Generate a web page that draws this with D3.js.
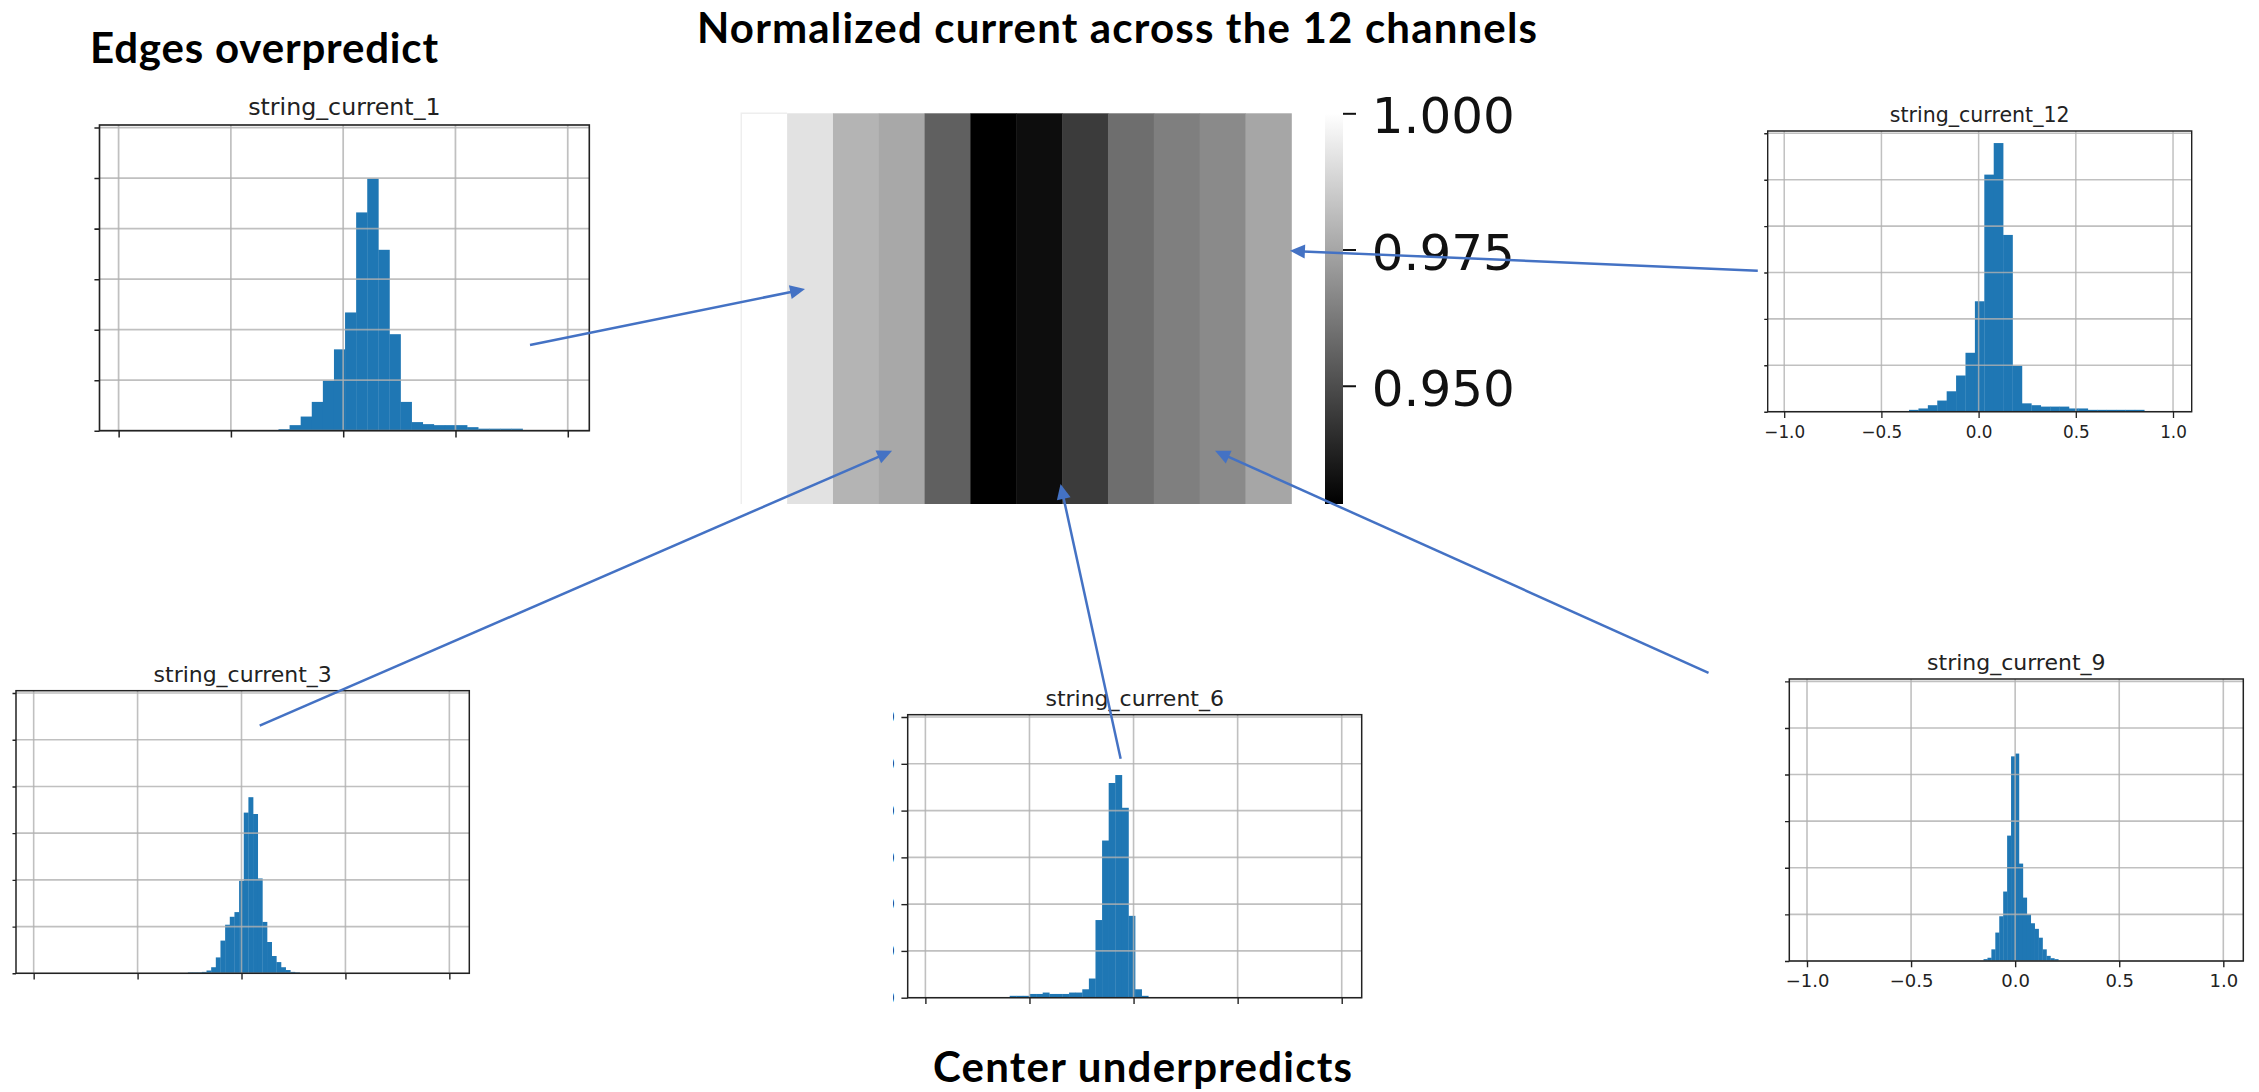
<!DOCTYPE html>
<html>
<head>
<meta charset="utf-8">
<script src="https://cdn.jsdelivr.net/npm/d3@7.9.0/dist/d3.min.js"></script>
<style>
  body { margin: 0; background: #fff; }
  svg { display: block; }
</style>
</head>
<body>
<script>
// heatmap: mean normalized current per channel
const channels = [1, 2, 3, 4, 5, 6, 7, 8, 9, 10, 11, 12];
const channelMean = [1.000, 0.9918, 0.9789, 0.9755, 0.9553, 0.9283, 0.9320, 0.9449, 0.9592, 0.9640, 0.9671, 0.9750];
const cbarDomain = [0.9283, 1.000];
const cbarTicks = [0.950, 0.975, 1.000];

// histograms (error distribution), counts per bin, bins = [first edge, width]
const histXTicks = [-1, -0.5, 0, 0.5, 1];
const histYTicks = [0, 1000, 2000, 3000, 4000, 5000, 6000];

const counts1 = [30, 110, 280, 570, 990, 1610, 2340, 4320, 4990, 3580, 1910, 570, 170, 130, 110, 110, 110, 70, 40, 40, 40, 40];
const bins1 = [-0.288, 0.0494];

const counts12 = [40, 70, 140, 240, 440, 780, 1270, 2380, 5110, 5790, 3810, 990, 180, 140, 110, 110, 110, 70, 70, 40, 40, 40, 40, 40, 40];
const bins12 = [-0.358, 0.0484];

const counts3 = [20, 20, 20, 30, 60, 130, 340, 700, 1040, 1210, 1310, 1980, 3440, 3770, 3410, 2030, 1100, 670, 370, 240, 130, 70, 30, 20];
const bins3 = [-0.258, 0.0224];

const counts6 = [40, 40, 40, 80, 80, 110, 80, 80, 80, 110, 110, 180, 410, 1660, 3360, 4590, 4760, 4060, 1750, 180, 40];
const bins6 = [-0.595, 0.0317];

const counts9 = [40, 70, 250, 610, 960, 1490, 2690, 4390, 4450, 2090, 1360, 1000, 810, 690, 500, 250, 110, 60, 40];
const bins9 = [-0.152, 0.0189];

const W = 2259, H = 1092;
const svg = d3.select('body').append('svg').attr('width', W).attr('height', H);
svg.append('rect').attr('width', W).attr('height', H).attr('fill', '#fff');

const blue = '#4472C4';
const histColor = '#1f77b4';

// ---------- heatmap ----------
const hm = { x0: 741.3, x1: 1291.3, y0: 113.3, y1: 504 };
const hx = d3.scaleLinear().domain([0.5, 12.5]).range([hm.x0, hm.x1]);
const hy = d3.scaleLinear().domain([0, 1]).range([hm.y0, hm.y1]);
const gray = d3.scaleLinear().domain(cbarDomain).range(['#000', '#fff']).clamp(true);

svg.append('g').selectAll('rect')
  .data(channels)
  .join('rect')
  .attr('x', (d) => hx(d - 0.5))
  .attr('width', (d) => hx(d + 0.5) - hx(d - 0.5) + 0.5)
  .attr('y', hy(0))
  .attr('height', hy(1) - hy(0))
  .attr('fill', (d, i) => gray(channelMean[i]));

// faint edge around first (white) column
svg.append('path')
  .attr('d', `M${hx(1.5)},${hy(0)}H${hx(0.5)}V${hy(1)}`)
  .attr('fill', 'none').attr('stroke', '#eeeeee').attr('stroke-width', 1.5);

// colorbar
const cb = { x: 1325, w: 18 };
const cy = d3.scaleLinear().domain(cbarDomain).range([hm.y1, hm.y0]);
const defs = svg.append('defs');
const grad = defs.append('linearGradient')
  .attr('id', 'cbgrad').attr('x1', 0).attr('x2', 0).attr('y1', 1).attr('y2', 0);
grad.append('stop').attr('offset', 0).attr('stop-color', '#000');
grad.append('stop').attr('offset', 1).attr('stop-color', '#fff');
svg.append('rect')
  .attr('x', cb.x).attr('y', hm.y0)
  .attr('width', cb.w).attr('height', hm.y1 - hm.y0)
  .attr('fill', 'url(#cbgrad)');

const cbAxis = svg.append('g')
  .attr('transform', `translate(${cb.x + cb.w},0)`)
  .call(d3.axisRight(cy).tickValues(cbarTicks).tickSize(13).tickPadding(15.7).tickFormat(d3.format('.3f')));
cbAxis.select('.domain').remove();
cbAxis.selectAll('line').attr('stroke', '#111').attr('stroke-width', 2);
cbAxis.selectAll('text')
  .attr('font-family', 'DejaVu Sans').attr('font-size', 50)
  .attr('fill', '#111').attr('dy', '0.39em');

// ---------- histogram panels ----------
const PW = 454, PH = 283;           // native plot size
const xDomain = [-1.085, 1.096];
const yMax = 6050;
const minus = (v) => d3.format('.1f')(v).replace('-', '\u2212');

// clipL: where each pasted screenshot was cropped on its left side
// (panel 3 sits at the page edge, so its y labels are left out)
const panels = [
  { title: 'string_current_1', counts: counts1, bins: bins1, x: 99.5, y: 125, w: 489.8, h: 305.7, labels: false, yLabels: true, clipL: -4.7 },
  { title: 'string_current_12', counts: counts12, bins: bins12, x: 1767.7, y: 131, w: 424, h: 280.7, labels: true, yLabels: true, clipL: -3.7 },
  { title: 'string_current_3', counts: counts3, bins: bins3, x: 16, y: 690.7, w: 453.3, h: 282.6, labels: false, yLabels: false, clipL: -3.5 },
  { title: 'string_current_6', counts: counts6, bins: bins6, x: 907.7, y: 714.7, w: 454, h: 283, labels: false, yLabels: true, clipL: -14.7 },
  { title: 'string_current_9', counts: counts9, bins: bins9, x: 1789.3, y: 679, w: 454, h: 282, labels: true, yLabels: true, clipL: -4.3 },
];

const px = d3.scaleLinear().domain(xDomain).range([0, PW]);
const py = d3.scaleLinear().domain([0, yMax]).range([PH, 0]);

panels.forEach((p, k) => {
  const sx = p.w / PW, sy = p.h / PH;
  p.sx = sx; p.sy = sy;

  defs.append('clipPath').attr('id', 'clip' + k)
    .append('rect').attr('x', p.clipL).attr('y', -60).attr('width', PW + 40 - p.clipL).attr('height', PH + 110);

  const g = svg.append('g')
    .attr('transform', `translate(${p.x},${p.y}) scale(${sx},${sy})`)
    .attr('clip-path', `url(#clip${k})`);

  // bars
  const bars = p.counts.map((c, i) => ({
    x0: p.bins[0] + i * p.bins[1],
    x1: p.bins[0] + (i + 1) * p.bins[1],
    c,
  }));
  g.append('g').selectAll('rect')
    .data(bars)
    .join('rect')
    .attr('x', (d) => px(d.x0))
    .attr('width', (d) => px(d.x1) - px(d.x0) + 0.3)
    .attr('y', (d) => py(d.c))
    .attr('height', (d) => PH - py(d.c))
    .attr('fill', histColor);

  // grid on top of bars
  const grid = g.append('g').attr('stroke', '#b0b0b0').attr('stroke-opacity', 0.8).attr('stroke-width', 1.6);
  grid.selectAll('.gx').data(histXTicks).join('line')
    .attr('x1', (d) => px(d)).attr('x2', (d) => px(d))
    .attr('y1', 0).attr('y2', PH);
  grid.selectAll('.gy').data(histYTicks).join('line')
    .attr('y1', (d) => py(d)).attr('y2', (d) => py(d))
    .attr('x1', 0).attr('x2', PW);

  // axes (y labels exist but are mostly cropped away by the clip)
  const xa = g.append('g').attr('transform', `translate(0,${PH})`)
    .call(d3.axisBottom(px).tickValues(histXTicks).tickSize(6.3).tickPadding(7)
      .tickFormat(p.labels ? minus : () => ''));
  const ya = g.append('g')
    .call(d3.axisLeft(py).tickValues(histYTicks).tickSize(6.3).tickPadding(6.5)
      .tickFormat(p.yLabels ? d3.format('d') : () => ''));
  [xa, ya].forEach((a) => {
    a.select('.domain').remove();
    a.selectAll('line').attr('stroke', '#222').attr('stroke-width', 1.4);
    a.selectAll('text').attr('font-family', 'DejaVu Sans').attr('font-size', 18).attr('fill', '#222');
  });

  // frame
  g.append('rect').attr('width', PW).attr('height', PH)
    .attr('fill', 'none').attr('stroke', '#222').attr('stroke-width', 1.5);

  g.append('text')
    .attr('x', PW / 2).attr('y', -9)
    .attr('text-anchor', 'middle')
    .attr('font-family', 'DejaVu Sans').attr('font-size', 22).attr('fill', '#222')
    .text(p.title);
});

// ---------- arrows: from a point in a panel to a heatmap column ----------
const arrows = [
  { panel: 0, from: [0.832, 1696], to: [1.89, 0.45] },
  { panel: 1, from: [-1.136, 3039], to: [12.47, 0.352] },
  { panel: 2, from: [0.0875, 5301], to: [3.79, 0.864] },
  { panel: 3, from: [-0.062, 5109], to: [7.465, 0.949] },
  { panel: 4, from: [-1.473, 6183], to: [10.836, 0.864] },
];

const ag = svg.append('g');
arrows.forEach((a) => {
  const p = panels[a.panel];
  const sx0 = p.x + px(a.from[0]) * p.sx;
  const sy0 = p.y + py(a.from[1]) * p.sy;
  const tx = hx(a.to[0]), ty = hy(a.to[1]);
  const dx = tx - sx0, dy = ty - sy0, len = Math.hypot(dx, dy);
  const ux = dx / len, uy = dy / len;
  const L = 15, hw = 7;
  const bx = tx - L * ux, by = ty - L * uy;
  ag.append('line')
    .attr('x1', sx0).attr('y1', sy0).attr('x2', bx + ux * 2).attr('y2', by + uy * 2)
    .attr('stroke', blue).attr('stroke-width', 2.5);
  ag.append('path')
    .attr('d', `M${tx},${ty}L${bx - uy * hw},${by + ux * hw}L${bx + uy * hw},${by - ux * hw}Z`)
    .attr('fill', blue);
});

// ---------- slide text ----------
function slideText(str, x, baseline, width) {
  svg.append('text')
    .attr('x', x).attr('y', baseline)
    .attr('font-family', 'Lato').attr('font-weight', 700).attr('font-size', 42)
    .attr('textLength', width).attr('lengthAdjust', 'spacing')
    .attr('fill', '#000')
    .text(str);
}
slideText('Normalized current across the 12 channels', 697, 42.5, 840);
slideText('Edges overpredict', 90, 63.3, 348);
slideText('Center underpredicts', 933, 1081.7, 419);
</script>
</body>
</html>
